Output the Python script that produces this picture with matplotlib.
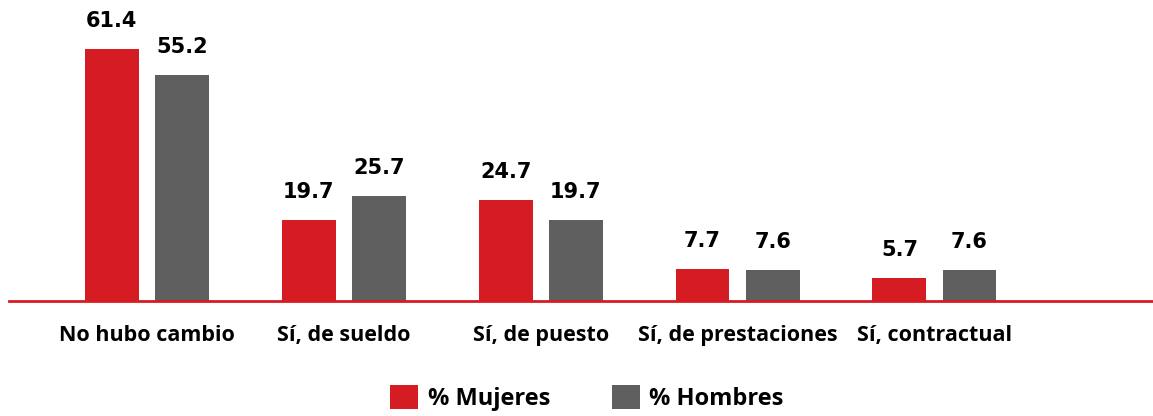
import numpy as np
import matplotlib.pyplot as plt

categories = ['No hubo cambio', 'Sí, de sueldo', 'Sí, de puesto', 'Sí, de prestaciones', 'Sí, contractual']
mujeres = [61.4, 19.7, 24.7, 7.7, 5.7]
hombres = [55.2, 25.7, 19.7, 7.6, 7.6]
series_names = ['% Mujeres', '% Hombres']

red = '#d51c22'
grey = '#5f5f5f'

fig = plt.figure(figsize=(11.53, 4.16), dpi=100)
ax = fig.add_axes([9 / 1153, 115 / 416, 1144 / 1153, 301 / 416])

x = np.arange(len(categories))
w = 0.274
off = 0.178
b1 = ax.bar(x - off, mujeres, w, color=red, label=series_names[0])
b2 = ax.bar(x + off, hombres, w, color=grey, label=series_names[1])

for bars, vals in [(b1, mujeres), (b2, hombres)]:
    for b, v in zip(bars, vals):
        ax.annotate(f'{v:.1f}', (b.get_x() + b.get_width() / 2, v),
                    xytext=(0, 13), textcoords='offset points',
                    ha='center', va='bottom', fontsize=15,
                    fontweight='bold', family='DejaVu Sans')

ax.set_xlim(-0.70, 5.11)
ax.set_ylim(0, 73.4)

for s in ['top', 'right', 'left']:
    ax.spines[s].set_visible(False)
ax.spines['bottom'].set_color(red)
ax.spines['bottom'].set_linewidth(2)
ax.set_yticks([])
ax.set_xticks(x)
ax.set_xticklabels(categories, fontsize=15.5, fontweight='bold', family='Open Sans')
ax.tick_params(axis='x', length=0, pad=17)

fig.legend(handles=[b1, b2], loc='center', bbox_to_anchor=(587 / 1153, 1 - 398 / 416),
           ncol=2, frameon=False, prop={'family': 'Open Sans', 'weight': 'bold', 'size': 17},
           handlelength=1.2, handleheight=1.2, columnspacing=2.6, handletextpad=0.4)

fig.savefig('out.png', dpi=100)
